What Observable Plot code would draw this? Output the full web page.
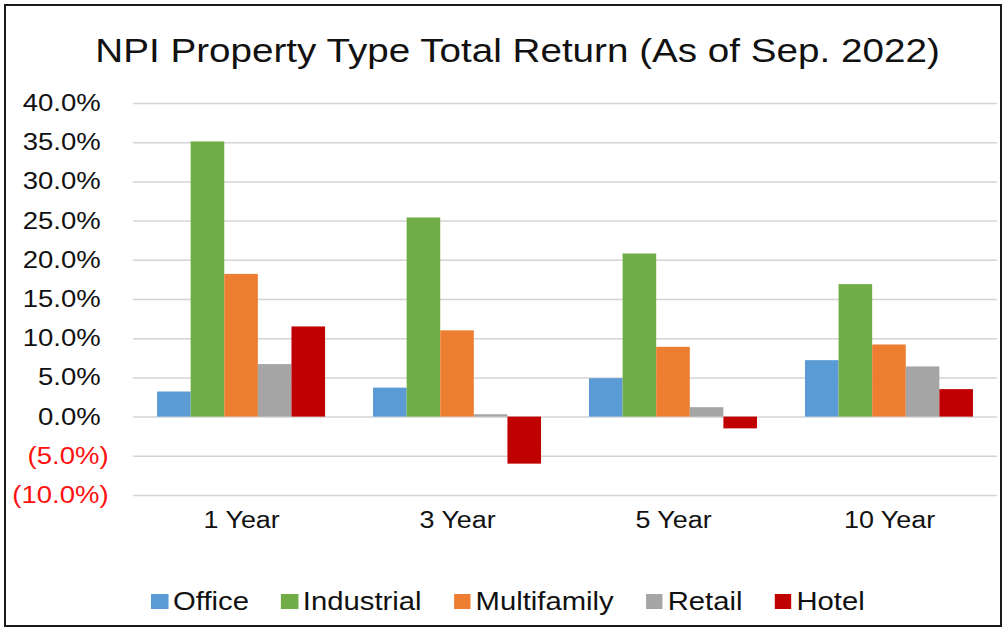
<!DOCTYPE html>
<html>
<head>
<meta charset="utf-8">
<script src="https://cdn.jsdelivr.net/npm/d3@7"></script>
<script src="https://cdn.jsdelivr.net/npm/@observablehq/plot@0.6"></script>
<style>
  html, body { margin: 0; background: #fff; overflow: hidden; font-family: "Liberation Sans", Arial, sans-serif; }
  #wrap { position: relative; width: 1003px; height: 629px; overflow: hidden; background: #fff; }
  /* the reference is drawn with horizontally widened lettering: lay out at 857px and widen */
  #page { position: absolute; left: 0; top: 0; width: 857px; height: 629px; transform: scaleX(1.1704); transform-origin: 0 0; }
  #frame { position: absolute; left: 4px; top: 4px; width: 994px; height: 619px; border: 2px solid #1a1a1a; pointer-events: none; }
  #title { position: absolute; left: 13.7px; top: 34px; width: 857px; text-align: center; font-size: 33px; color: #111; line-height: 33px; white-space: nowrap; }
  #chart { position: absolute; left: 0; top: 85px; }
  #legend { position: absolute; left: 5.5px; top: 589px; width: 857px; display: flex; justify-content: center; gap: 27.4px; font-size: 25px; color: #111; line-height: 25px; white-space: nowrap; }
  .item { display: flex; align-items: center; }
  .sw { display: inline-block; width: 14.5px; height: 15px; margin-right: 4.2px; }
</style>
</head>
<body>
<div id="wrap">
  <div id="page">
    <div id="title">NPI Property Type Total Return (As of Sep. 2022)</div>
    <div id="chart"></div>
    <div id="legend"></div>
  </div>
  <div id="frame"></div>
</div>
<script>
const periods = ["1 Year", "3 Year", "5 Year", "10 Year"];
const types = ["Office", "Industrial", "Multifamily", "Retail", "Hotel"];
const office = [3.2, 3.7, 4.9, 7.2];
const industrial = [35.1, 25.4, 20.8, 16.9];
const multifamily = [18.2, 11.0, 8.9, 9.2];
const retail = [6.7, 0.3, 1.2, 6.4];
const hotel = [11.5, -6.0, -1.5, 3.5];
const colors = ["#5B9BD5", "#70AD47", "#ED7D31", "#A5A5A5", "#C00000"];
const yTicks = [-10, -5, 0, 5, 10, 15, 20, 25, 30, 35, 40];

const series = [office, industrial, multifamily, retail, hotel];
const data = [];
periods.forEach((p, i) => {
  types.forEach((t, j) => data.push({period: p, type: t, value: series[j][i]}));
});

const fmt = d => d < 0 ? `(${(-d).toFixed(1)}%)` : `${d.toFixed(1)}%`;

const chart = Plot.plot({
  width: 857,
  height: 470,
  marginLeft: 113.7,
  marginRight: 5.2,
  marginTop: 18,
  marginBottom: 60,
  style: {fontFamily: "Liberation Sans, Arial, sans-serif", background: "transparent", overflow: "visible"},
  fx: {domain: periods, padding: 0, round: false, label: null},
  x: {domain: types, paddingInner: 0, paddingOuter: 0.714, round: false, axis: null},
  y: {domain: [-10, 40], label: null},
  color: {domain: types, range: colors},
  marks: [
    Plot.gridY(yTicks, {stroke: "#d4d4d4", strokeOpacity: 1, strokeWidth: 1.5}),
    Plot.barY(data, {fx: "period", x: "type", y: "value", fill: "type", inset: 0}),
    Plot.axisY(yTicks.filter(d => d >= 0), {tickSize: 0, tickPadding: 28.2, tickFormat: fmt, fontSize: 23.5, fill: "#111", label: null}),
    Plot.axisY(yTicks.filter(d => d < 0), {tickSize: 0, tickPadding: 21.4, tickFormat: fmt, fontSize: 23.5, fill: "#ff1010", label: null}),
    Plot.axisFx({anchor: "bottom", tickSize: 0, tickPadding: 16, fontSize: 23, fill: "#111", label: null})
  ]
});
document.getElementById("chart").appendChild(chart);

const legend = document.getElementById("legend");
types.forEach((t, i) => {
  const item = document.createElement("div");
  item.className = "item";
  const sw = document.createElement("span");
  sw.className = "sw";
  sw.style.background = colors[i];
  const lab = document.createElement("span");
  lab.textContent = t;
  item.appendChild(sw);
  item.appendChild(lab);
  legend.appendChild(item);
});
</script>
</body>
</html>
